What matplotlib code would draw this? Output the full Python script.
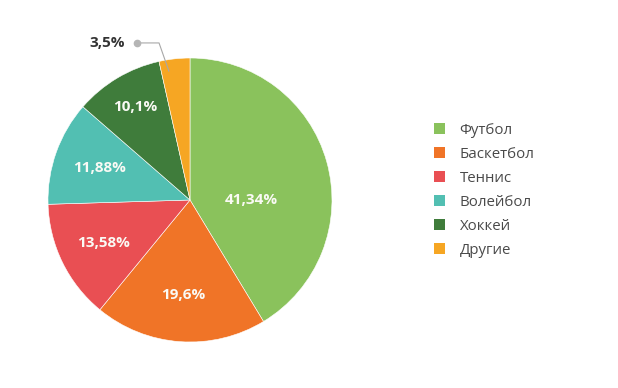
import numpy as np
import matplotlib.pyplot as plt
from matplotlib.patches import Patch

plt.rcParams['font.family'] = ['Open Sans', 'DejaVu Sans']

# ---------- data ----------
sports = ["Футбол", "Баскетбол", "Теннис", "Волейбол", "Хоккей", "Другие"]
shares = [41.34, 19.6, 13.58, 11.88, 10.1, 3.5]
share_labels = ["41,34%", "19,6%", "13,58%", "11,88%", "10,1%", "3,5%"]
colors = ["#8AC25C", "#F07427", "#E94F53", "#52BFB2", "#3F7C3B", "#F6A623"]

W, H = 618, 388
fig = plt.figure(figsize=(W / 100, H / 100), dpi=100)

# pie axes placed in pixel terms: centre (190, 200), radius 142
cx, cy, R = 190, 200, 142
ax = fig.add_axes([(cx - R) / W, (H - cy - R) / H, 2 * R / W, 2 * R / H])

wedges, _ = ax.pie(shares, colors=colors, startangle=90, counterclock=False,
                   radius=1, wedgeprops=dict(edgecolor='white', linewidth=0.4))
ax.set_xlim(-1, 1)
ax.set_ylim(-1, 1)
ax.set_aspect('equal')
ax.axis('off')

# ---------- labels inside wedges ----------
label_r = [0.43, 0.67, 0.68, 0.68, 0.76]
for i, w in enumerate(wedges[:-1]):
    ang = np.deg2rad((w.theta1 + w.theta2) / 2)
    if i == 0:
        x, y = label_r[0], 0.0
    else:
        x, y = label_r[i] * np.cos(ang), label_r[i] * np.sin(ang)
    ax.text(x, y, share_labels[i], ha='center', va='center', color='#FAFAF5',
            fontsize=11, fontweight='bold')

# ---------- small slice: outside label with leader ----------
w = wedges[-1]
ang = np.deg2rad((w.theta1 + w.theta2) / 2 + 3)
px, py = 0.92 * np.cos(ang), 0.92 * np.sin(ang)
ex, ey = -0.218, 1.106
dx = -0.373
ax.plot([px, ex, dx], [py, ey, ey], color='#A8A8A8', lw=0.8, clip_on=False)
ax.plot([dx], [ey], 'o', color='#B5B5B5', ms=4.5, clip_on=False)
ax.text(-0.455, ey, share_labels[-1], ha='right', va='center', color='#333333',
        fontsize=11, fontweight='bold')

# ---------- legend ----------
handles = [Patch(facecolor=c, edgecolor='none') for c in colors]
fig.legend(handles, sports, loc='upper left', bbox_to_anchor=(420 / W, 1 - 109 / H),
           frameon=False, fontsize=10.8, handlelength=0.75, handleheight=0.75,
           handletextpad=1.0, labelspacing=0.6, labelcolor='#4A4A4A')

fig.savefig('out.png', dpi=100)
